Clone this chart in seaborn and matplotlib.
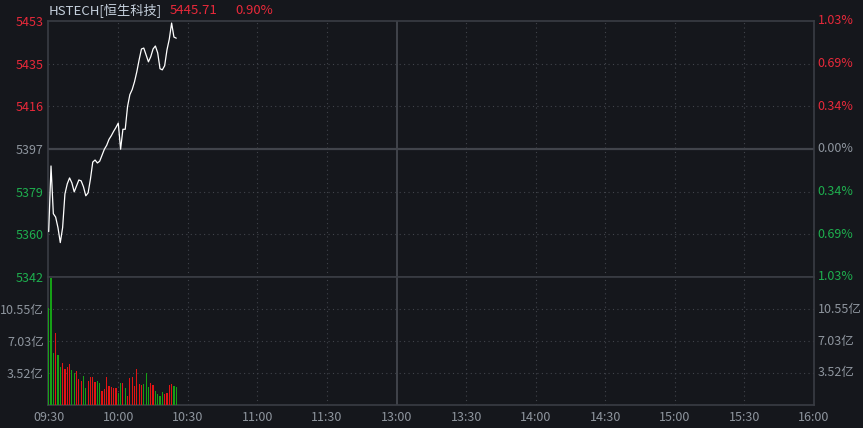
import matplotlib
matplotlib.use("Agg")
import matplotlib.pyplot as plt
import seaborn as sns
import pandas as pd

# ---------------- data ----------------
minutes = list(range(56))  # minutes after 09:30
price = [5361.4, 5390.0, 5369.2, 5367.7, 5363.1, 5356.6, 5363.1, 5377.8, 5382.2, 5384.8,
         5382.6, 5378.7, 5381.3, 5383.9, 5383.5, 5380.9, 5377.0, 5378.3, 5384.3, 5391.7,
         5392.6, 5391.3, 5392.1, 5394.7, 5397.3, 5399.0, 5401.6, 5403.2, 5405.1, 5406.8,
         5408.7, 5397.3, 5406.0, 5406.0, 5415.9, 5421.1, 5423.3, 5426.7, 5431.1, 5436.3,
         5441.0, 5441.4, 5438.4, 5435.4, 5437.6, 5441.0, 5442.3, 5439.3, 5432.4, 5431.9,
         5433.7, 5440.6, 5445.3, 5452.3, 5446.2, 5445.71]
volume = [10.7, 14.0, 5.75, 7.95, 5.5, 4.2, 4.65, 3.96, 4.2, 4.47,
          3.85, 3.55, 3.74, 2.86, 2.64, 3.19, 1.9, 2.64, 3.11, 3.11,
          2.56, 2.64, 2.45, 1.54, 1.76, 3.11, 2.09, 1.98, 1.87, 1.83,
          1.29, 2.45, 2.45, 1.83, 0.99, 2.93, 3.04, 2.09, 3.92, 2.31,
          2.2, 2.31, 3.48, 2.01, 2.38, 2.2, 1.54, 1.21, 0.99, 1.46,
          1.21, 1.35, 2.2, 2.31, 2.09, 2.01]
direction = list("gggrggrrrr" "ggrrrggrrr" "rggrrrrrrr" "ggrgrrrrrr" "rgggrrgggg" "rrrrgg")

time_labels = ['09:30', '10:00', '10:30', '11:00', '11:30', '13:00',
               '13:30', '14:00', '14:30', '15:00', '15:30', '16:00']
price_labels = ['5342', '5360', '5379', '5397', '5416', '5435', '5453']
pct_labels = ['1.03%', '0.69%', '0.34%', '0.00%', '0.34%', '0.69%', '1.03%']
vol_ticks = [3.52, 7.03, 10.55]
vol_labels = ['3.52亿', '7.03亿', '10.55亿']
title_name = 'HSTECH[恒生科技]'
last_price = '5445.71'
last_pct = '0.90%'

# ---------------- style ----------------
BG = '#15171c'
GRID = '#41444b'
SPINE = '#3a3d44'
RED = '#e8293a'
GREEN = '#1eae4e'
GRAY = '#8e959e'
TITLE = '#c5d0dc'
BAR_RED = '#e21414'
BAR_GREEN = '#16a016'
FS = 9
FS_T = 9.5

sns.set_style("dark")
plt.rcParams['font.family'] = ['Noto Sans CJK SC', 'DejaVu Sans']
plt.rcParams['axes.unicode_minus'] = False

W, H = 863, 428
fig = plt.figure(figsize=(W / 100, H / 100), dpi=100, facecolor=BG)
L, R = 48, 814
ax_p = fig.add_axes([L / W, 1 - 277 / H, (R - L) / W, (277 - 21) / H], facecolor=BG)
ax_v = fig.add_axes([L / W, 1 - 405 / H, (R - L) / W, (405 - 277) / H], facecolor=BG)

pc = 5397.4
step = 18.6
price_ticks = [pc + step * k for k in range(-3, 4)]
xticks = [30 * k for k in range(12)]
xlim = (-0.3, 330)

df = pd.DataFrame({'minute': minutes, 'price': price, 'volume': volume, 'dir': direction})

# price line
sns.lineplot(data=df, x='minute', y='price', ax=ax_p, color='white', linewidth=0.9, zorder=5)
ax_p.set_xlim(*xlim)
ax_p.set_ylim(pc - 3 * step, pc + 3 * step)

# volume bars
sns.barplot(data=df, x='minute', y='volume', hue='dir', palette={'r': BAR_RED, 'g': BAR_GREEN},
            native_scale=True, dodge=False, width=0.5, saturation=1, legend=False,
            linewidth=0, ax=ax_v, zorder=5)
ax_v.set_xlim(*xlim)
ax_v.set_ylim(0, 14.07)

dot = (0, (1, 3))
for ax in (ax_p, ax_v):
    ax.set_xlabel('')
    ax.set_ylabel('')
    ax.set_xticks(xticks)
    ax.grid(False)
    for x in xticks[1:-1]:
        if x == 150:
            ax.axvline(x, color=GRID, lw=1.4, zorder=1)
        else:
            ax.axvline(x, color=GRID, lw=0.8, ls=dot, zorder=1)
    for s in ax.spines.values():
        s.set_color(SPINE)
        s.set_linewidth(1.2)
        s.set_visible(True)
    ax.tick_params(length=0)

# price grid
for k, y in enumerate(price_ticks):
    if k == 3:
        ax_p.axhline(y, color=GRID, lw=1.6, zorder=1)
    elif 0 < k < 6:
        ax_p.axhline(y, color=GRID, lw=0.8, ls=dot, zorder=1)
for y in vol_ticks:
    ax_v.axhline(y, color=GRID, lw=0.8, ls=dot, zorder=1)

# price axis labels
ax_p.set_xticklabels([])
ax_p.set_yticks(price_ticks)
ax_p.set_yticklabels(price_labels, fontsize=FS)
colors = [GREEN, GREEN, GREEN, GRAY, RED, RED, RED]
for lab, c in zip(ax_p.get_yticklabels(), colors):
    lab.set_color(c)
ax_p.tick_params(axis='y', pad=3)
tr = ax_p.get_yaxis_transform()
for y, t, c in zip(price_ticks, pct_labels, colors):
    ax_p.text(1.005, y, t, transform=tr, ha='left', va='center', fontsize=FS, color=c)

# volume axis labels
ax_v.set_yticks(vol_ticks)
ax_v.set_yticklabels(vol_labels, fontsize=FS, color=GRAY)
ax_v.tick_params(axis='y', pad=3)
trv = ax_v.get_yaxis_transform()
for y, t in zip(vol_ticks, vol_labels):
    ax_v.text(1.005, y, t, transform=trv, ha='left', va='center', fontsize=FS, color=GRAY)
ax_v.set_xticklabels(time_labels, fontsize=FS, color=GRAY)
ax_v.tick_params(axis='x', pad=4)

# title
ty = 1 - 10 / H
fig.text(49 / W, ty, title_name, color=TITLE, fontsize=FS_T, va='center', ha='left')
fig.text(170 / W, ty, last_price, color=RED, fontsize=FS_T, va='center', ha='left')
fig.text(235 / W, ty, last_pct, color=RED, fontsize=FS_T, va='center', ha='left')

fig.savefig('out.png', dpi=100, facecolor=BG)
